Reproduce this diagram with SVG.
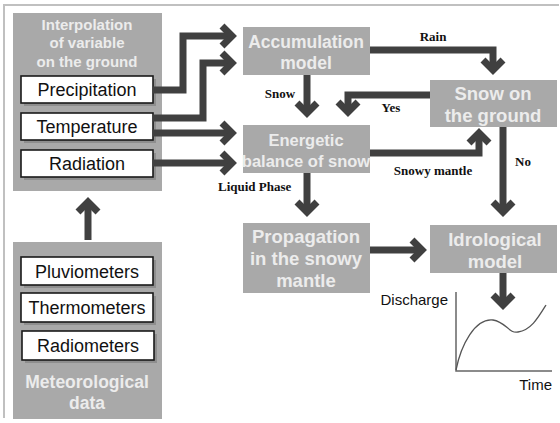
<svg xmlns="http://www.w3.org/2000/svg" width="560" height="423" viewBox="0 0 560 423">
<style>
.box{fill:#a9a9a9}
.wbox{fill:#fff;stroke:#1a1a1a;stroke-width:1.6}
.shadow{fill:#8e8e8e}
.t{font-family:"Liberation Sans",Arial,sans-serif;font-weight:bold;fill:#ececec;text-anchor:middle}
.w{font-family:"Liberation Sans",Arial,sans-serif;font-size:18px;fill:#111;text-anchor:middle}
.lab{font-family:"Liberation Serif","Times New Roman",serif;font-weight:bold;font-size:13px;fill:#111}
.ax{font-family:"Liberation Sans",Arial,sans-serif;font-size:15px;fill:#111}
.c{fill:none;stroke:#404040;stroke-width:7;stroke-linejoin:miter}
.frame{stroke:#c0c0c0;stroke-width:2;fill:none}
</style>
<path class="frame" d="M4,418 V5 H559"/>

<g id="interpolation">
<rect class="box" x="13" y="13" width="149" height="178"/>
<text class="t" font-size="15" x="87" y="30">Interpolation</text>
<text class="t" font-size="15" x="87" y="48">of variable</text>
<text class="t" font-size="15" x="87" y="67">on the ground</text>
</g>
<g id="precipitation">
<rect class="shadow" x="24" y="79" width="132" height="27"/>
<rect class="wbox" x="21" y="76" width="132" height="27"/>
<text class="w" x="87" y="96">Precipitation</text>
</g>
<g id="temperature">
<rect class="shadow" x="24" y="116" width="132" height="27"/>
<rect class="wbox" x="21" y="113" width="132" height="27"/>
<text class="w" x="87" y="133">Temperature</text>
</g>
<g id="radiation">
<rect class="shadow" x="24" y="153" width="132" height="27"/>
<rect class="wbox" x="21" y="150" width="132" height="27"/>
<text class="w" x="87" y="170">Radiation</text>
</g>

<g id="meteorological">
<rect class="box" x="13" y="242" width="149" height="177"/>
<text class="t" font-size="17.5" x="87" y="388">Meteorological</text>
<text class="t" font-size="17.5" x="87" y="409">data</text>
</g>
<g id="pluviometers">
<rect class="shadow" x="24" y="260" width="132" height="28"/>
<rect class="wbox" x="21" y="257" width="132" height="28"/>
<text class="w" x="87" y="278">Pluviometers</text>
</g>
<g id="thermometers">
<rect class="shadow" x="24" y="296" width="132" height="29"/>
<rect class="wbox" x="21" y="293" width="132" height="29"/>
<text class="w" x="87" y="314">Thermometers</text>
</g>
<g id="radiometers">
<rect class="shadow" x="25" y="334" width="132" height="29"/>
<rect class="wbox" x="22" y="331" width="132" height="29"/>
<text class="w" x="88" y="352">Radiometers</text>
</g>

<g id="accumulation">
<rect class="box" x="243" y="27" width="127" height="48"/>
<text class="t" font-size="17.5" x="306" y="48">Accumulation</text>
<text class="t" font-size="17.5" x="306" y="69">model</text>
</g>
<g id="snow-ground">
<rect class="box" x="430" y="80" width="127" height="47"/>
<text class="t" font-size="18.5" x="493" y="100">Snow on</text>
<text class="t" font-size="18.5" x="493" y="122">the ground</text>
</g>
<g id="energetic">
<rect class="box" x="243" y="125" width="127" height="48"/>
<text class="t" font-size="16.5" x="306" y="146">Energetic</text>
<text class="t" font-size="16.5" x="306" y="167">balance of snow</text>
</g>
<g id="propagation">
<rect class="box" x="243" y="223" width="127" height="70"/>
<text class="t" font-size="18.5" x="306" y="243">Propagation</text>
<text class="t" font-size="18.5" x="306" y="265">in the snowy</text>
<text class="t" font-size="18.5" x="306" y="287">mantle</text>
</g>
<g id="idrological">
<rect class="box" x="430" y="225" width="127" height="48"/>
<text class="t" font-size="18.5" x="495" y="246">Idrological</text>
<text class="t" font-size="18.5" x="495" y="268">model</text>
</g>

<g id="chart">
<path d="M456,292 V371 H552" fill="none" stroke="#666" stroke-width="1.5"/>
<path d="M456,370 C461,345 475,318 493,320 C506,322 509,334 518,332 C531,330 538,318 546,305" fill="none" stroke="#555" stroke-width="1.3"/>
<text class="ax" x="448" y="305" text-anchor="end">Discharge</text>
<text class="ax" x="552" y="390" text-anchor="end">Time</text>
</g>

<g id="connectors">
<path class="c" d="M153,90 H183 V36 H232"/><polyline class="c" points="222,26 232,36 222,46"/>
<path class="c" d="M153,118 H203 V63 H232"/><polyline class="c" points="222,53 232,63 222,73"/>
<path class="c" d="M153,133 H232"/><polyline class="c" points="222,123 232,133 222,143"/>
<path class="c" d="M153,163 H232"/><polyline class="c" points="222,153 232,163 222,173"/>
<path class="c" d="M370,50 H493 V70"/><polyline class="c" points="483,60 493,70 503,60"/>
<path class="c" d="M430,95 H348 V112"/><polyline class="c" points="338,102 348,112 358,102"/>
<path class="c" d="M307,75 V113"/><polyline class="c" points="297,103 307,113 317,103"/>
<path class="c" d="M370,153 H479 V133"/><polyline class="c" points="469,143 479,133 489,143"/>
<path class="c" d="M503,127 V212"/><polyline class="c" points="493,202 503,212 513,202"/>
<path class="c" d="M307,173 V212"/><polyline class="c" points="297,202 307,212 317,202"/>
<path class="c" d="M370,250 H422"/><polyline class="c" points="412,240 422,250 412,260"/>
<path class="c" d="M503,273 V305"/><polyline class="c" points="493,295 503,305 513,295"/>
<path class="c" d="M88,240 V202"/><polyline class="c" points="78,212 88,202 98,212"/>
<text class="lab" x="433" y="41" text-anchor="middle">Rain</text>
<text class="lab" x="280" y="98" text-anchor="middle">Snow</text>
<text class="lab" x="391" y="112" text-anchor="middle">Yes</text>
<text class="lab" x="433" y="175" text-anchor="middle" font-size="14.5">Snowy mantle</text>
<text class="lab" x="523" y="166" text-anchor="middle">No</text>
<text class="lab" x="218" y="191">Liquid Phase</text>
</g>
</svg>
